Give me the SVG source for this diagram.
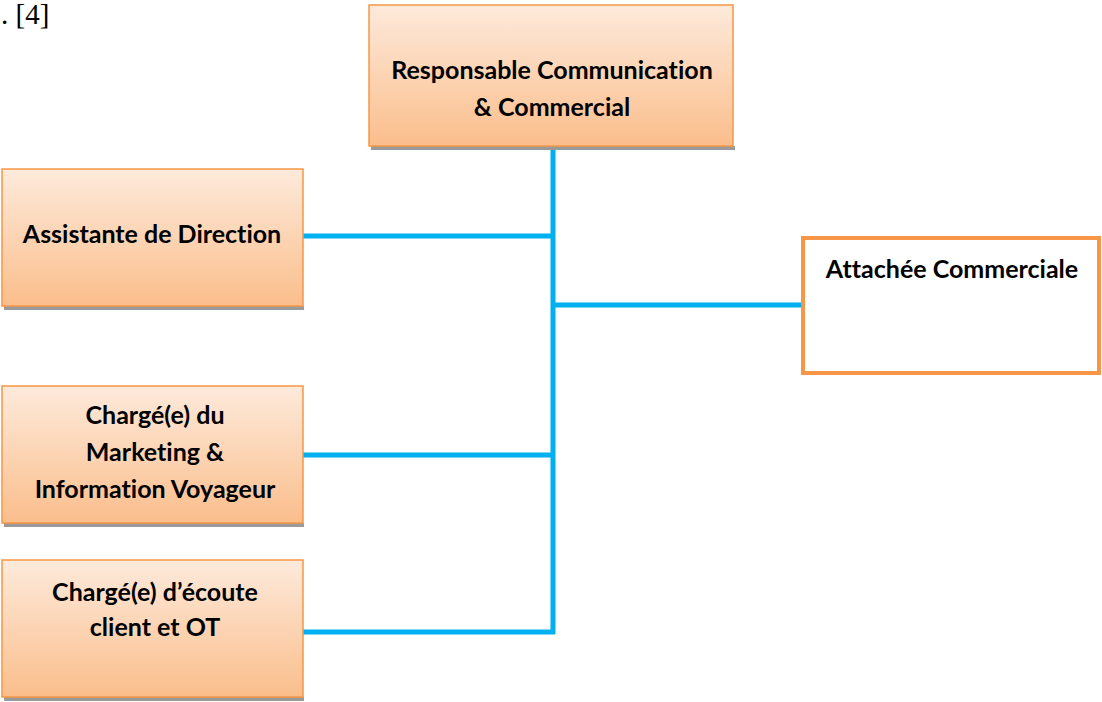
<svg xmlns="http://www.w3.org/2000/svg" width="1102" height="702" viewBox="0 0 1102 702">
  <style>
    .box { fill: url(#peach); stroke: #f79646; stroke-width: 1.5; }
    .shadow { fill: #9a9a9a; }
    .plain { fill: #ffffff; stroke: #f79646; stroke-width: 4; }
    .lbl { font-family: Lato, "Liberation Sans", sans-serif; font-weight: bold; font-size: 25px; fill: #000; text-anchor: middle; font-variant-ligatures: none; }
    .ref { font-family: "Liberation Serif", serif; font-size: 29px; fill: #000; }
    .link { stroke: #00b0f0; stroke-width: 5; fill: none; }
  </style>
  <defs>
    <linearGradient id="peach" x1="0" y1="0" x2="0" y2="1">
      <stop offset="0" stop-color="#fdeadb"/>
      <stop offset="1" stop-color="#fbbe8c"/>
    </linearGradient>
  </defs>
  <rect width="1102" height="702" fill="#ffffff"/>
  <text class="ref" x="1" y="24">. [4]</text>

  <g id="connectors">
    <line class="link" x1="553" y1="146" x2="553" y2="634"/>
    <line class="link" x1="303" y1="236" x2="553" y2="236"/>
    <line class="link" x1="553" y1="305" x2="802" y2="305"/>
    <line class="link" x1="303" y1="455" x2="553" y2="455"/>
    <line class="link" x1="303" y1="632" x2="555" y2="632"/>
  </g>

  <g id="responsable">
    <rect class="shadow" x="371" y="146" width="364" height="4"/>
    <rect class="box" x="369" y="5" width="364" height="141"/>
    <text class="lbl" x="552" y="79">Responsable Communication</text>
    <text class="lbl" x="552" y="116">&amp; Commercial</text>
  </g>

  <g id="assistante">
    <rect class="shadow" x="4" y="306" width="300" height="4"/>
    <rect class="box" x="2" y="169" width="301" height="137"/>
    <text class="lbl" x="152" y="243">Assistante de Direction</text>
  </g>

  <g id="attachee">
    <rect class="plain" x="803" y="238" width="296" height="135"/>
    <text class="lbl" x="952" y="278">Attachée Commerciale</text>
  </g>

  <g id="marketing">
    <rect class="shadow" x="4" y="523" width="300" height="4"/>
    <rect class="box" x="2" y="386" width="301" height="137"/>
    <text class="lbl" x="155" y="424">Chargé(e) du</text>
    <text class="lbl" x="155" y="461">Marketing &amp;</text>
    <text class="lbl" x="155" y="498">Information Voyageur</text>
  </g>

  <g id="ecoute">
    <rect class="shadow" x="4" y="697" width="300" height="4"/>
    <rect class="box" x="2" y="560" width="301" height="137"/>
    <text class="lbl" x="155" y="601">Chargé(e) d’écoute</text>
    <text class="lbl" x="155" y="636">client et OT</text>
  </g>
</svg>
